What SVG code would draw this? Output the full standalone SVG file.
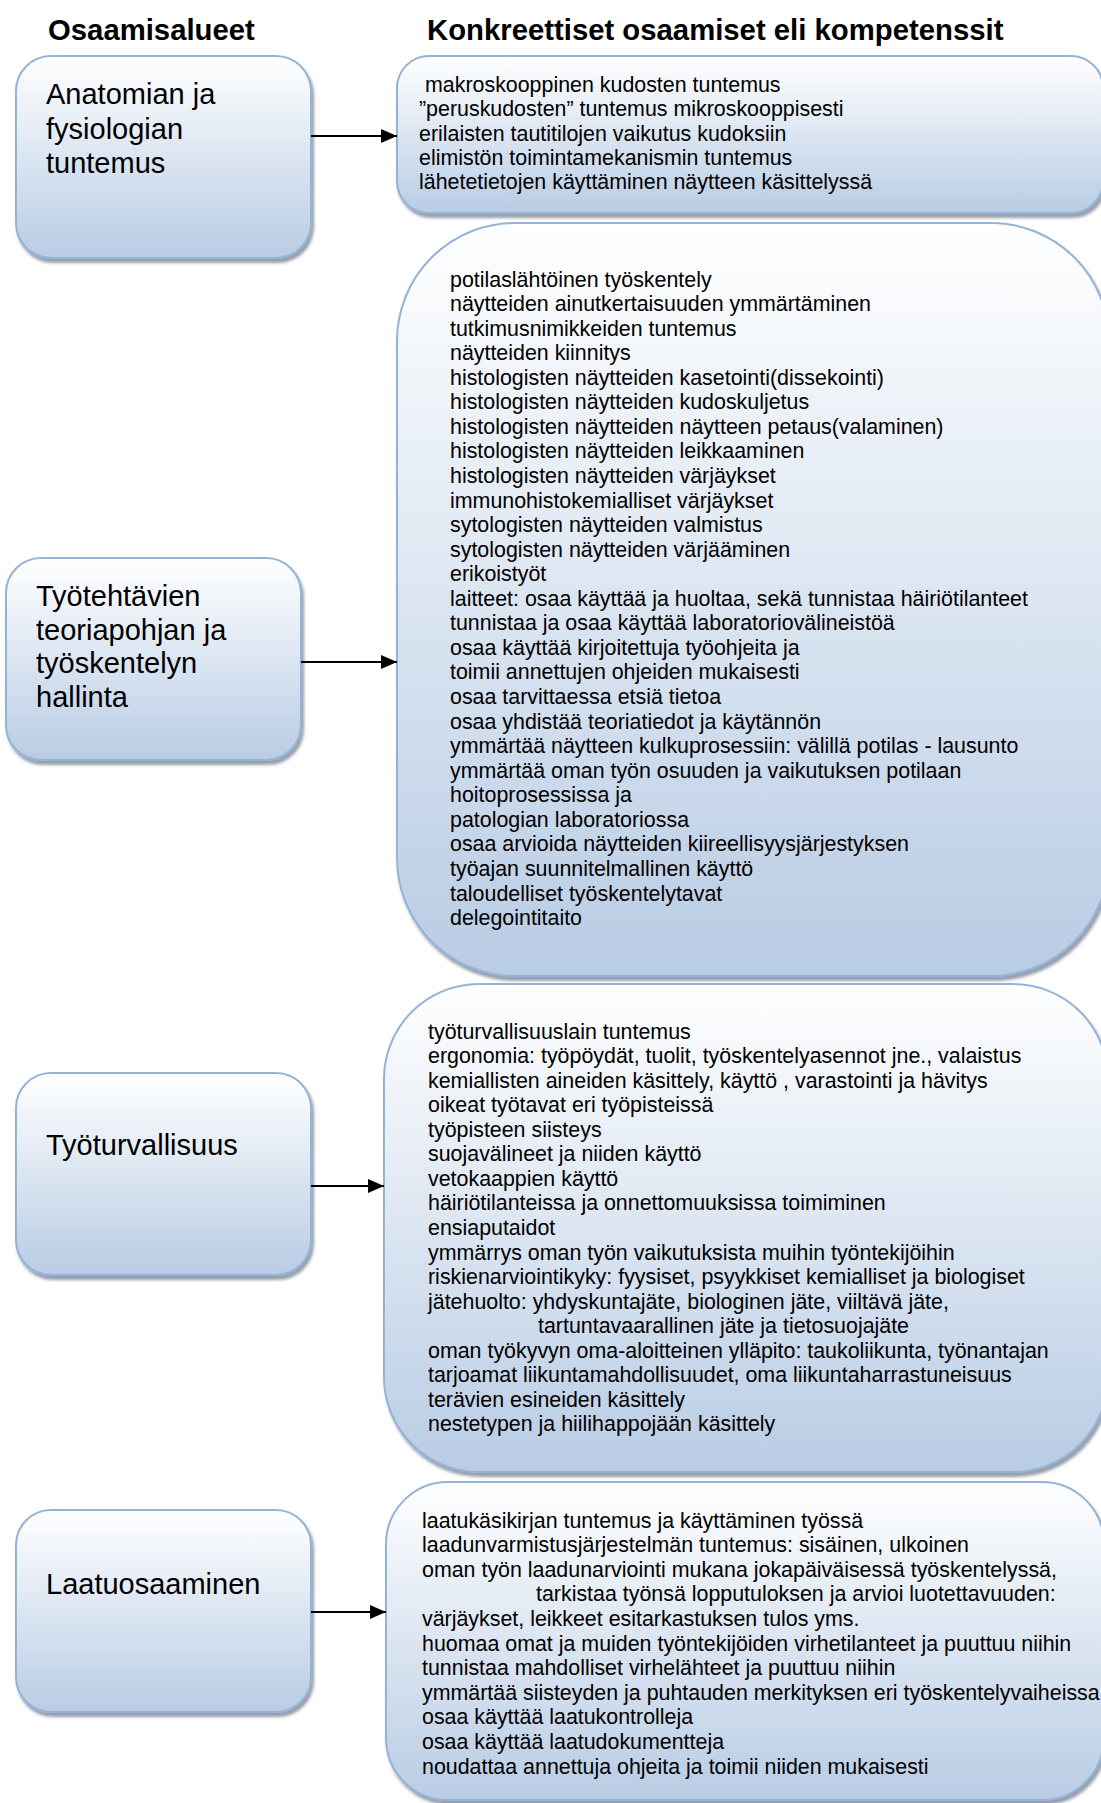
<svg xmlns="http://www.w3.org/2000/svg" width="1101" height="1803" viewBox="0 0 1101 1803">
<defs>
<linearGradient id="fillGrad" x1="0" y1="0" x2="0" y2="1">
<stop offset="0" stop-color="#ffffff"/>
<stop offset="1" stop-color="#b8cce4"/>
</linearGradient>
<filter id="shadow" x="-5%" y="-5%" width="115%" height="115%">
<feDropShadow dx="2" dy="4" stdDeviation="1.5" flood-color="#3f4f66" flood-opacity="0.55"/>
</filter>
<marker id="arrow" viewBox="0 0 16 14" refX="16" refY="7" markerWidth="16" markerHeight="14" markerUnits="userSpaceOnUse" orient="auto">
<path d="M0,0 L16,7 L0,14 Z" fill="#000"/>
</marker>
</defs>
<style>
.box{fill:url(#fillGrad);stroke:#95b3d7;stroke-width:2;filter:url(#shadow)}
.head{font-family:"Liberation Sans",Arial,sans-serif;font-weight:bold;font-size:29.3px;fill:#000}
.area{font-family:"Liberation Sans",Arial,sans-serif;font-size:29px;fill:#000}
.comp{font-family:"Liberation Sans",Arial,sans-serif;font-size:21.4px;fill:#000}
.conn{stroke:#000;stroke-width:2;fill:none;marker-end:url(#arrow)}
</style>
<rect width="1101" height="1803" fill="#fff"/>

<g id="headers">
<text class="head" x="48" y="40">Osaamisalueet</text>
<text class="head" x="427" y="40">Konkreettiset osaamiset eli kompetenssit</text>
</g>

<g id="area-1">
<rect class="box" x="16" y="56" width="295" height="202" rx="35"/>
<text class="area"><tspan x="46" y="104">Anatomian ja</tspan><tspan x="46" y="138.5">fysiologian</tspan><tspan x="46" y="173">tuntemus</tspan></text>
</g>
<g id="area-2">
<rect class="box" x="6" y="558" width="295" height="202" rx="35"/>
<text class="area"><tspan x="36" y="606">Työtehtävien</tspan><tspan x="36" y="639.5">teoriapohjan ja</tspan><tspan x="36" y="673">työskentelyn</tspan><tspan x="36" y="706.5">hallinta</tspan></text>
</g>
<g id="area-3">
<rect class="box" x="16" y="1073" width="295" height="202" rx="35"/>
<text class="area" x="46" y="1155">Työturvallisuus</text>
</g>
<g id="area-4">
<rect class="box" x="16" y="1510" width="295" height="202" rx="35"/>
<text class="area" x="46" y="1594">Laatuosaaminen</text>
</g>

<g id="comp-1">
<rect class="box" x="397" y="56" width="706" height="157" rx="32"/>
<text class="comp"><tspan x="425" y="92">makroskooppinen kudosten tuntemus</tspan><tspan x="419" y="116.3">”peruskudosten” tuntemus mikroskooppisesti</tspan><tspan x="419" y="140.6">erilaisten tautitilojen vaikutus kudoksiin</tspan><tspan x="419" y="164.9">elimistön toimintamekanismin tuntemus</tspan><tspan x="419" y="189.2">lähetetietojen käyttäminen näytteen käsittelyssä</tspan></text>
</g>

<g id="comp-2">
<rect class="box" x="397" y="223" width="712" height="753" rx="118"/>
<text class="comp">
<tspan x="450" y="286.5">potilaslähtöinen työskentely</tspan>
<tspan x="450" dy="24.56">näytteiden ainutkertaisuuden ymmärtäminen</tspan>
<tspan x="450" dy="24.56">tutkimusnimikkeiden tuntemus</tspan>
<tspan x="450" dy="24.56">näytteiden kiinnitys</tspan>
<tspan x="450" dy="24.56">histologisten näytteiden kasetointi(dissekointi)</tspan>
<tspan x="450" dy="24.56">histologisten näytteiden kudoskuljetus</tspan>
<tspan x="450" dy="24.56">histologisten näytteiden näytteen petaus(valaminen)</tspan>
<tspan x="450" dy="24.56">histologisten näytteiden leikkaaminen</tspan>
<tspan x="450" dy="24.56">histologisten näytteiden värjäykset</tspan>
<tspan x="450" dy="24.56">immunohistokemialliset värjäykset</tspan>
<tspan x="450" dy="24.56">sytologisten näytteiden valmistus</tspan>
<tspan x="450" dy="24.56">sytologisten näytteiden värjääminen</tspan>
<tspan x="450" dy="24.56">erikoistyöt</tspan>
<tspan x="450" dy="24.56">laitteet: osaa käyttää ja huoltaa, sekä tunnistaa häiriötilanteet</tspan>
<tspan x="450" dy="24.56">tunnistaa ja osaa käyttää laboratoriovälineistöä</tspan>
<tspan x="450" dy="24.56">osaa käyttää kirjoitettuja työohjeita ja</tspan>
<tspan x="450" dy="24.56">toimii annettujen ohjeiden mukaisesti</tspan>
<tspan x="450" dy="24.56">osaa tarvittaessa etsiä tietoa</tspan>
<tspan x="450" dy="24.56">osaa yhdistää teoriatiedot ja käytännön</tspan>
<tspan x="450" dy="24.56">ymmärtää näytteen kulkuprosessiin: välillä potilas - lausunto</tspan>
<tspan x="450" dy="24.56">ymmärtää oman työn osuuden ja vaikutuksen potilaan</tspan>
<tspan x="450" dy="24.56">hoitoprosessissa ja</tspan>
<tspan x="450" dy="24.56">patologian laboratoriossa</tspan>
<tspan x="450" dy="24.56">osaa arvioida näytteiden kiireellisyysjärjestyksen</tspan>
<tspan x="450" dy="24.56">työajan suunnitelmallinen käyttö</tspan>
<tspan x="450" dy="24.56">taloudelliset työskentelytavat</tspan>
<tspan x="450" dy="24.56">delegointitaito</tspan>
</text>
</g>

<g id="comp-3">
<rect class="box" x="384" y="984" width="724" height="488" rx="95"/>
<text class="comp">
<tspan x="428" y="1038.5">työturvallisuuslain tuntemus</tspan>
<tspan x="428" dy="24.56">ergonomia: työpöydät, tuolit, työskentelyasennot jne., valaistus</tspan>
<tspan x="428" dy="24.56">kemiallisten aineiden käsittely, käyttö , varastointi ja hävitys</tspan>
<tspan x="428" dy="24.56">oikeat työtavat eri työpisteissä</tspan>
<tspan x="428" dy="24.56">työpisteen siisteys</tspan>
<tspan x="428" dy="24.56">suojavälineet ja niiden käyttö</tspan>
<tspan x="428" dy="24.56">vetokaappien käyttö</tspan>
<tspan x="428" dy="24.56">häiriötilanteissa ja onnettomuuksissa toimiminen</tspan>
<tspan x="428" dy="24.56">ensiaputaidot</tspan>
<tspan x="428" dy="24.56">ymmärrys oman työn vaikutuksista muihin työntekijöihin</tspan>
<tspan x="428" dy="24.56">riskienarviointikyky: fyysiset, psyykkiset kemialliset ja biologiset</tspan>
<tspan x="428" dy="24.56">jätehuolto: yhdyskuntajäte, biologinen jäte, viiltävä jäte,</tspan>
<tspan x="538" dy="24.56">tartuntavaarallinen jäte ja tietosuojajäte</tspan>
<tspan x="428" dy="24.56">oman työkyvyn oma-aloitteinen ylläpito: taukoliikunta, työnantajan</tspan>
<tspan x="428" dy="24.56">tarjoamat liikuntamahdollisuudet, oma liikuntaharrastuneisuus</tspan>
<tspan x="428" dy="24.56">terävien esineiden käsittely</tspan>
<tspan x="428" dy="24.56">nestetypen ja hiilihappojään käsittely</tspan>
</text>
</g>

<g id="comp-4">
<rect class="box" x="386" y="1482" width="718" height="318" rx="62"/>
<text class="comp">
<tspan x="422" y="1527.5">laatukäsikirjan tuntemus ja käyttäminen työssä</tspan>
<tspan x="422" dy="24.6">laadunvarmistusjärjestelmän tuntemus: sisäinen, ulkoinen</tspan>
<tspan x="422" dy="24.6">oman työn laadunarviointi mukana jokapäiväisessä työskentelyssä,</tspan>
<tspan x="536" dy="24.6">tarkistaa työnsä lopputuloksen ja arvioi luotettavuuden:</tspan>
<tspan x="422" dy="24.6">värjäykset, leikkeet esitarkastuksen tulos yms.</tspan>
<tspan x="422" dy="24.6">huomaa omat ja muiden työntekijöiden virhetilanteet ja puuttuu niihin</tspan>
<tspan x="422" dy="24.6">tunnistaa mahdolliset virhelähteet ja puuttuu niihin</tspan>
<tspan x="422" dy="24.6">ymmärtää siisteyden ja puhtauden merkityksen eri työskentelyvaiheissa</tspan>
<tspan x="422" dy="24.6">osaa käyttää laatukontrolleja</tspan>
<tspan x="422" dy="24.6">osaa käyttää laatudokumentteja</tspan>
<tspan x="422" dy="24.6">noudattaa annettuja ohjeita ja toimii niiden mukaisesti</tspan>
</text>
</g>

<g id="connectors">
<line class="conn" x1="311" y1="136" x2="397" y2="136"/>
<line class="conn" x1="301" y1="662" x2="397" y2="662"/>
<line class="conn" x1="311" y1="1186" x2="384" y2="1186"/>
<line class="conn" x1="311" y1="1612" x2="386" y2="1612"/>
</g>
</svg>
